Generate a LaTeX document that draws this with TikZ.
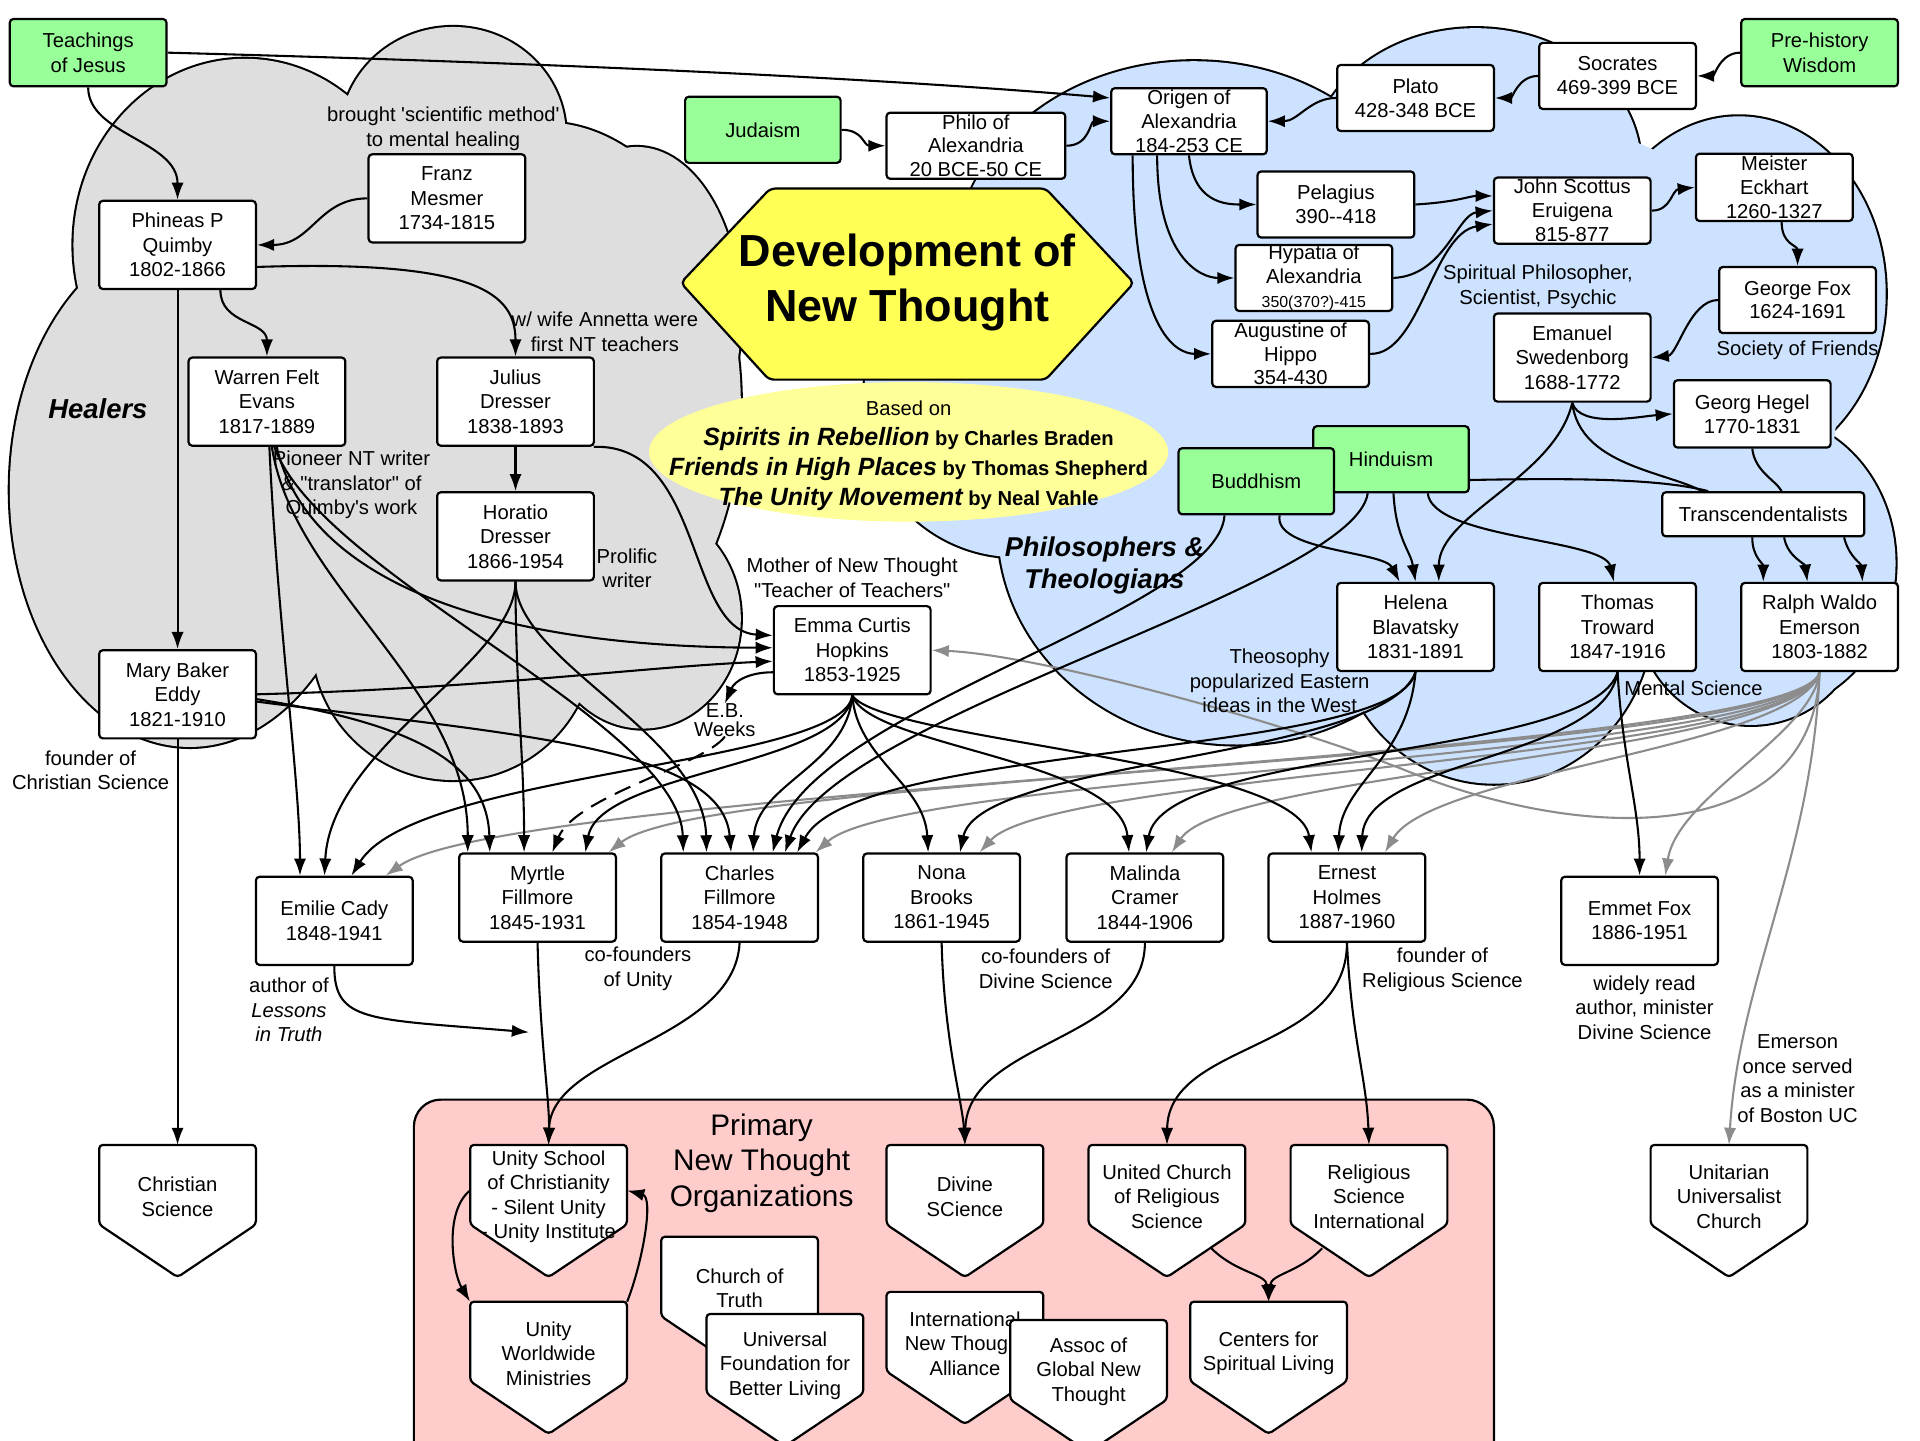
\documentclass[tikz,border=0pt]{standalone}
\usepackage{fontspec}
\setmainfont{Liberation Sans}[Ligatures=TeXOff]
\usetikzlibrary{arrows.meta}
\definecolor{boxgreen}{RGB}{153,255,153}
\definecolor{cloudgray}{RGB}{222,222,222}
\definecolor{cloudblue}{RGB}{204,226,255}
\definecolor{orgpink}{RGB}{255,204,204}
\definecolor{hexyellow}{RGB}{255,255,85}
\definecolor{ellyellow}{RGB}{255,255,153}
\definecolor{edgegray}{RGB}{140,140,140}
\newcommand{\nf}{\fontsize{16.5}{20}\selectfont}
\newcommand{\tightnf}{\fontsize{16.5}{19.5}\selectfont}
\pgfdeclarelayer{bg}
\pgfdeclarelayer{edges}
\pgfsetlayers{bg,edges,main}
\tikzset{
  pbox/.style={draw, line width=1.8pt, rounded corners=3pt, fill=white, align=center,
    minimum width=128pt, minimum height=72pt, inner sep=0pt, font=\nf},
  sbox/.style={pbox, minimum height=54pt, font=\tightnf},
  gbox/.style={pbox, fill=boxgreen, minimum height=55pt},
  arr/.style={line width=1.7pt, -{Latex[length=14pt,width=10pt]}},
  garr/.style={arr, draw=edgegray},
  lnk/.style={line width=1.7pt},
  lbl/.style={align=center, font=\nf, inner sep=0pt},
  orgline/.style={draw, fill=white, line width=1.8pt, rounded corners=3pt},
  orgtxt/.style={align=center, font=\nf, inner sep=0pt, minimum width=128pt, minimum height=84pt},
  cloudline/.style={line width=3.4pt}
}
\newcommand{\orgbox}[4]{%
  \draw[orgline] ({#2-64},#3) -- ({#2+64},#3) -- ({#2+64},{#3+65}) -- (#2,{#3+108}) -- ({#2-64},{#3+65}) -- cycle;
  \node[orgtxt, anchor=north] (#1) at (#2,#3) {#4};
}
\begin{document}
\begin{tikzpicture}[x=1pt,y=-1pt]
\useasboundingbox (0,0) rectangle (1568,1176);
\begin{pgfonlayer}{bg}
  \fill[white] (0,0) rectangle (1568,1176);
  % gray cloud (Healers)
  \foreach \cx/\cy/\rx/\ry in {155/400/147/210, 200/200/140/152, 370/110/92/88, 445/330/160/230, 520/260/85/140, 370/522/115/115, 525/505/80/90}
    \draw[cloudline] (\cx,\cy) ellipse [x radius=\rx pt, y radius=\ry pt];
  \foreach \cx/\cy/\rx/\ry in {155/400/147/210, 200/200/140/152, 370/110/92/88, 445/330/160/230, 520/260/85/140, 370/522/115/115, 525/505/80/90, 300/350/200/200}
    \fill[cloudgray] (\cx,\cy) ellipse [x radius=\rx pt, y radius=\ry pt];
  % blue cloud (Philosophers)
  \foreach \cx/\cy/\rx/\ry in {975/215/195/165, 1205/135/135/112, 1420/240/120/145, 1442/460/106/120, 1430/500/92/92, 1220/500/130/140, 1010/430/195/178, 830/330/125/125}
    \draw[cloudline] (\cx,\cy) ellipse [x radius=\rx pt, y radius=\ry pt];
  \foreach \cx/\cy/\rx/\ry in {975/215/195/165, 1205/135/135/112, 1420/240/120/145, 1442/460/106/120, 1430/500/92/92, 1220/500/130/140, 1010/430/195/178, 830/330/125/125, 1200/330/300/240}
    \fill[cloudblue] (\cx,\cy) ellipse [x radius=\rx pt, y radius=\ry pt];
  % organizations region
  \draw[fill=orgpink, line width=1.8pt, rounded corners=22pt] (338,898) rectangle (1220,1215);
  % title hexagon and sources ellipse
  \draw[fill=hexyellow, line width=1.8pt, rounded corners=4pt] (556,231) -- (629,154) -- (854,154) -- (926,231) -- (854,310) -- (628,310) -- cycle;
  \fill[ellyellow] (742,369) ellipse [x radius=212pt, y radius=57pt];
\end{pgfonlayer}

% ---------- nodes ----------
\node[font=\fontsize{36.7}{45}\selectfont\bfseries, align=center, inner sep=0pt] (title) at (741,231) {Development of\\New Thought};
\node[align=center, inner sep=0pt, font=\fontsize{16.5}{24.5}\selectfont] (basis) at (742,372) {Based on\\
{\bfseries\itshape\fontsize{20.4}{24.5}\selectfont Spirits in Rebellion} {\bfseries by Charles Braden}\\
{\bfseries\itshape\fontsize{20.4}{24.5}\selectfont Friends in High Places} {\bfseries by Thomas Shepherd}\\
{\bfseries\itshape\fontsize{20.4}{24.5}\selectfont The Unity Movement} {\bfseries by Neal Vahle}};
\node[lbl, font=\fontsize{24.3}{29}\selectfont] (prim) at (622,950) {Primary\\New Thought\\Organizations};

\node[gbox] (tj) at (72,43) {Teachings\\of Jesus};
\node[gbox, minimum width=127pt, minimum height=54pt] (jud) at (623,106) {Judaism};
\node[gbox] (pre) at (1486,43) {Pre-history\\Wisdom};
\node[gbox, minimum width=127pt, minimum height=54pt] (hin) at (1136,375) {Hinduism};
\node[gbox, minimum width=127pt, minimum height=54pt] (bud) at (1026,393) {Buddhism};

\node[pbox] (qui) at (145,200) {Phineas P\\Quimby\\1802-1866};
\node[pbox] (mes) at (365,162) {Franz\\Mesmer\\1734-1815};
\node[pbox] (eva) at (218,328) {Warren Felt\\Evans\\1817-1889};
\node[pbox] (jdr) at (421,328) {Julius\\Dresser\\1838-1893};
\node[pbox] (hdr) at (421,438) {Horatio\\Dresser\\1866-1954};
\node[pbox] (mbe) at (145,567) {Mary Baker\\Eddy\\1821-1910};
\node[pbox] (ech) at (696,531) {Emma Curtis\\Hopkins\\1853-1925};

\node[sbox, minimum width=146pt] (phi) at (797,119) {Philo of\\Alexandria\\20 BCE-50 CE};
\node[sbox, minimum width=127pt] (ori) at (971,99) {Origen of\\Alexandria\\184-253 CE};
\node[sbox] (pla) at (1156,80) {Plato\\428-348 BCE};
\node[sbox] (soc) at (1321,62) {Socrates\\469-399 BCE};
\node[sbox] (pel) at (1091,167) {Pelagius\\390-{}-418};
\node[sbox] (hyp) at (1073,227) {Hypatia of\\Alexandria\\{\fontsize{13}{15}\selectfont 350(370?)-415}};
\node[sbox] (aug) at (1054,289) {Augustine of\\Hippo\\354-430};
\node[sbox] (jse) at (1284,172) {John Scottus\\Eruigena\\815-877};
\node[sbox, minimum height=55pt] (mei) at (1449,153) {Meister\\Eckhart\\1260-1327};
\node[sbox] (fox) at (1468,245) {George Fox\\1624-1691};
\node[pbox] (swe) at (1284,292) {Emanuel\\Swedenborg\\1688-1772};
\node[sbox, minimum height=55pt] (heg) at (1431,338) {Georg Hegel\\1770-1831};
\node[pbox, minimum width=165pt, minimum height=36pt] (tra) at (1440,420) {Transcendentalists};
\node[pbox] (hel) at (1156,512) {Helena\\Blavatsky\\1831-1891};
\node[pbox] (tro) at (1321,512) {Thomas\\Troward\\1847-1916};
\node[pbox] (emr) at (1486,512) {Ralph Waldo\\Emerson\\1803-1882};

\node[pbox] (cad) at (273,752) {Emilie Cady\\1848-1941};
\node[pbox] (myr) at (439,733) {Myrtle\\Fillmore\\1845-1931};
\node[pbox] (cha) at (604,733) {Charles\\Fillmore\\1854-1948};
\node[pbox] (non) at (769,733) {Nona\\Brooks\\1861-1945};
\node[pbox] (mal) at (935,733) {Malinda\\Cramer\\1844-1906};
\node[pbox] (hol) at (1100,733) {Ernest\\Holmes\\1887-1960};
\node[pbox] (emf) at (1339,752) {Emmet Fox\\1886-1951};

\orgbox{cs}{145}{935}{Christian\\Science}
\orgbox{us}{448}{935}{Unity School\\of Christianity\\- Silent Unity\\- Unity Institute}
\orgbox{uw}{448}{1063}{Unity\\Worldwide\\Ministries}
\orgbox{ct}{604}{1010}{Church of\\Truth}
\orgbox{uf}{641}{1073}{Universal\\Foundation for\\Better Living}
\orgbox{ds}{788}{935}{Divine\\SCience}
\orgbox{inta}{788}{1055}{International\\New Thought\\Alliance}
\orgbox{agnt}{889}{1078}{Assoc of\\Global New\\Thought}
\orgbox{ucrs}{953}{935}{United Church\\of Religious\\Science}
\orgbox{rsi}{1118}{935}{Religious\\Science\\International}
\orgbox{csl}{1036}{1063}{Centers for\\Spiritual Living}
\orgbox{uuc}{1412}{935}{Unitarian\\Universalist\\Church}

% ---------- labels ----------
\node[lbl] (l1) at (362,105) {brought 'scientific method'\\to mental healing};
\node[lbl] (l2) at (494,271) {w/ wife Annetta were\\first NT teachers};
\node[lbl, font=\fontsize{22.4}{26}\selectfont\bfseries\itshape] (healers) at (80,334) {Healers};
\node[lbl] (l3) at (287,396) {Pioneer NT writer\\\& "translator" of\\Quimby's work};
\node[lbl] (l4) at (512,464) {Prolific\\writer};
\node[lbl] (l5) at (696,472) {Mother of New Thought\\"Teacher of Teachers"};
\node[lbl, font=\fontsize{16.5}{15}\selectfont] (ebw) at (592,588) {E.B.\\Weeks};
\node[lbl] (l6) at (74,629) {founder of\\Christian Science};
\node[lbl] (l7) at (236,825) {author of\\\textit{Lessons}\\\textit{in Truth}};
\node[lbl] (l8) at (521,791) {co-founders\\of Unity};
\node[lbl] (l9) at (854,791) {co-founders of\\Divine Science};
\node[lbl] (l10) at (1178,792) {founder of\\Religious Science};
\node[lbl] (l11) at (1343,823) {widely read\\author, minister\\Divine Science};
\node[lbl] (l12) at (1468,881) {Emerson\\once served\\as a minister\\of Boston UC};
\node[lbl] (l13) at (1045,556) {Theosophy\\popularized Eastern\\ideas in the West};
\node[lbl] (l14) at (1383,562) {Mental Science};
\node[lbl, font=\fontsize{22.2}{26}\selectfont\bfseries\itshape] (phil) at (902,462) {Philosophers \&\\Theologians};
\node[lbl] (l15) at (1256,234) {Spiritual Philosopher,\\Scientist, Psychic};
\node[lbl] (l16) at (1468,286) {Society of Friends};
\coordinate (cadend) at (432,843);

% ---------- connectors ----------
\begin{pgfonlayer}{edges}
% gray: Emerson fan
\draw[garr] (emr.south) .. controls (1470,620) and (420,640) .. ([xshift=42pt]cad.north);
\draw[garr] (emr.south) .. controls (1470,620) and (580,630) .. ([xshift=58pt]myr.north);
\draw[garr] (emr.south) .. controls (1470,620) and (740,630) .. ([xshift=62pt]cha.north);
\draw[garr] (emr.south) .. controls (1470,620) and (860,630) .. ([xshift=31pt]non.north);
\draw[garr] (emr.south) .. controls (1470,615) and (1000,630) .. ([xshift=22pt]mal.north);
\draw[garr] (emr.south) .. controls (1470,610) and (1170,630) .. ([xshift=31pt]hol.north);
\draw[garr] (emr.south) .. controls (1480,600) and (1370,650) .. ([xshift=21pt]emf.north);
\draw[garr] (emr.south) .. controls (1480,700) and (1420,800) .. (uuc.north);
\draw[garr] (emr.south) .. controls (1480,690) and (1300,690) .. (1150,630) .. controls (1050,590) and (850,535) .. (ech.east);

% healers
\draw[arr] (tj.south) .. controls (72,110) and (145,115) .. (qui.north);
\draw[arr] (tj.east) .. controls (400,50) and (700,62) .. ([yshift=19pt]ori.west);
\draw[arr] (mes.west) .. controls (260,162) and (255,200) .. (qui.east);
\draw[arr] ([xshift=35pt]qui.south) .. controls (180,265) and (218,262) .. (eva.north);
\draw[arr] ([yshift=-18pt]qui.east) .. controls (390,212) and (421,240) .. (jdr.north);
\draw[arr] (qui.south) -- (mbe.north);
\draw[arr] (jdr.south) -- (hdr.north);
\draw[arr] ([xshift=64pt]jdr.south) .. controls (575,362) and (560,515) .. ([yshift=12pt]ech.west);
\draw[arr] (mbe.south) -- (cs.north);
\draw[arr] (mbe.east) .. controls (400,562) and (520,545) .. ([yshift=-9pt]ech.west);
\draw[arr] ([xshift=8pt]eva.south) .. controls (245,450) and (350,528) .. ([yshift=2pt]ech.west);
\draw[arr] ([xshift=2pt]eva.south) .. controls (226,500) and (245,640) .. ([xshift=-28pt]cad.north);
\draw[arr] ([xshift=4pt]eva.south) .. controls (240,480) and (382,560) .. ([xshift=-57pt]myr.north);
\draw[arr] ([xshift=6pt]eva.south) .. controls (262,470) and (555,590) .. ([xshift=-46pt]cha.north);
\draw[arr] (hdr.south) .. controls (421,540) and (270,610) .. ([xshift=-8pt]cad.north);
\draw[arr] (hdr.south) .. controls (421,560) and (428,620) .. ([xshift=-11pt]myr.north);
\draw[arr] (hdr.south) .. controls (421,540) and (575,600) .. ([xshift=-27pt]cha.north);
\draw[arr] ([yshift=-4pt]mbe.east) .. controls (330,590) and (398,620) .. ([xshift=-39pt]myr.north);
\draw[arr] ([yshift=-6pt]mbe.east) .. controls (420,600) and (590,610) .. ([xshift=-7pt]cha.north);

% Emma fan
\draw[arr] ([yshift=-18pt]ech.west) .. controls (612,549) and (600,556) .. (ebw.north);
\draw[arr, dash pattern=on 14pt off 8pt] (ebw.south) .. controls (575,625) and (470,650) .. ([xshift=12pt]myr.north);
\draw[arr] (ech.south) .. controls (690,625) and (340,630) .. ([xshift=14pt]cad.north);
\draw[arr] (ech.south) .. controls (690,625) and (490,630) .. ([xshift=39pt]myr.north);
\draw[arr] (ech.south) .. controls (692,625) and (618,640) .. ([xshift=11pt]cha.north);
\draw[arr] (ech.south) .. controls (700,620) and (755,640) .. ([xshift=-11pt]non.north);
\draw[arr] (ech.south) .. controls (710,610) and (915,620) .. ([xshift=-13pt]mal.north);
\draw[arr] (ech.south) .. controls (720,605) and (1060,620) .. ([xshift=-29pt]hol.north);

% eastern religions, Blavatsky, Troward
\draw[arr] ([xshift=-26pt]bud.south) .. controls (995,500) and (660,580) .. ([xshift=27pt]cha.north);
\draw[arr] ([xshift=-19pt]hin.south) .. controls (1105,480) and (680,585) .. ([xshift=37pt]cha.north);
\draw[arr] (hel.south) .. controls (1140,620) and (700,605) .. ([xshift=47pt]cha.north);
\draw[arr] (hel.south) .. controls (1130,620) and (800,620) .. ([xshift=15pt]non.north);
\draw[arr] (hel.south) .. controls (1150,620) and (1095,640) .. ([xshift=-7pt]hol.north);
\draw[arr] (tro.south) .. controls (1300,620) and (950,610) .. ([xshift=1pt]mal.north);
\draw[arr] (tro.south) .. controls (1310,620) and (1115,620) .. ([xshift=12pt]hol.north);
\draw[arr] (tro.south) .. controls (1325,620) and (1339,660) .. (emf.north);

% lower row to organizations
\draw[arr] (cad.south) .. controls (273,835) and (300,832) .. (cadend);
\draw[arr] (myr.south) .. controls (441,850) and (449,900) .. (us.north);
\draw[arr] (cha.south) .. controls (600,850) and (450,860) .. (us.north);
\draw[arr] (non.south) .. controls (771,850) and (786,900) .. (ds.north);
\draw[arr] (mal.south) .. controls (935,850) and (790,850) .. (ds.north);
\draw[arr] (hol.south) .. controls (1100,860) and (954,850) .. (ucrs.north);
\draw[arr] (hol.south) .. controls (1104,850) and (1116,880) .. (rsi.north);
\draw[arr] ([xshift=-28pt]ucrs.south east) .. controls (1010,1040) and (1034,1040) .. (csl.north);
\draw[arr] ([xshift=26pt]rsi.south west) .. controls (1060,1040) and (1038,1040) .. (csl.north);
\draw[arr] ([yshift=5pt]us.west) .. controls (362,990) and (370,1040) .. (uw.north west);
\draw[arr] (uw.north east) .. controls (525,1030) and (534,978) .. ([yshift=5pt]us.east);

% philosophers
\draw[arr] (jud.east) .. controls (705,106) and (705,119) .. (phi.west);
\draw[arr] (phi.east) .. controls (890,119) and (890,99) .. (ori.west);
\draw[arr] (pre.west) .. controls (1405,43) and (1400,62) .. (soc.east);
\draw[arr] (soc.west) .. controls (1240,62) and (1235,80) .. (pla.east);
\draw[arr] (pla.west) .. controls (1070,80) and (1060,99) .. (ori.east);
\draw[arr] (ori.south) .. controls (975,165) and (1000,167) .. (pel.west);
\draw[arr] ([xshift=-26pt]ori.south) .. controls (945,210) and (980,227) .. (hyp.west);
\draw[arr] ([xshift=-46pt]ori.south) .. controls (925,270) and (960,289) .. (aug.west);
\draw[arr] (pel.east) .. controls (1190,165) and (1200,160) .. ([yshift=12pt]jse.west);
\draw[arr] (hyp.east) .. controls (1180,225) and (1190,175) .. (jse.west);
\draw[arr] (aug.east) .. controls (1160,290) and (1170,190) .. ([yshift=-11pt]jse.west);
\draw[arr] (jse.east) .. controls (1365,172) and (1365,155) .. (mei.west);
\draw[arr] ([xshift=6pt]mei.south) .. controls (1455,200) and (1468,200) .. (fox.north);
\draw[arr] (fox.west) .. controls (1380,245) and (1370,290) .. (swe.east);
\draw[arr] (swe.south) .. controls (1290,350) and (1340,340) .. (heg.west);
\draw[lnk] (swe.south) .. controls (1290,380) and (1360,385) .. ([xshift=-50pt]tra.north);
\draw[arr] (swe.south) .. controls (1270,390) and (1175,420) .. ([xshift=19pt]hel.north);
\draw[lnk] (heg.south) .. controls (1433,385) and (1450,392) .. ([xshift=15pt]tra.north);
\draw[lnk] ([yshift=-17pt]hin.east) .. controls (1300,390) and (1360,392) .. ([xshift=-45pt]tra.north);
\draw[arr] ([xshift=19pt]bud.south) .. controls (1040,450) and (1130,450) .. ([xshift=-13pt]hel.north);
\draw[arr] ([xshift=2pt]hin.south) .. controls (1140,440) and (1152,450) .. (hel.north);
\draw[arr] ([xshift=30pt]hin.south) .. controls (1170,440) and (1310,440) .. ([xshift=-3pt]tro.north);
\draw[arr] ([xshift=-9pt]tra.south) .. controls (1431,455) and (1440,460) .. ([xshift=-46pt]emr.north);
\draw[arr] ([xshift=17pt]tra.south) .. controls (1460,455) and (1474,460) .. ([xshift=-10pt]emr.north);
\draw[arr] ([xshift=66pt]tra.south) .. controls (1510,455) and (1520,460) .. ([xshift=35pt]emr.north);
\end{pgfonlayer}
\end{tikzpicture}
\end{document}
